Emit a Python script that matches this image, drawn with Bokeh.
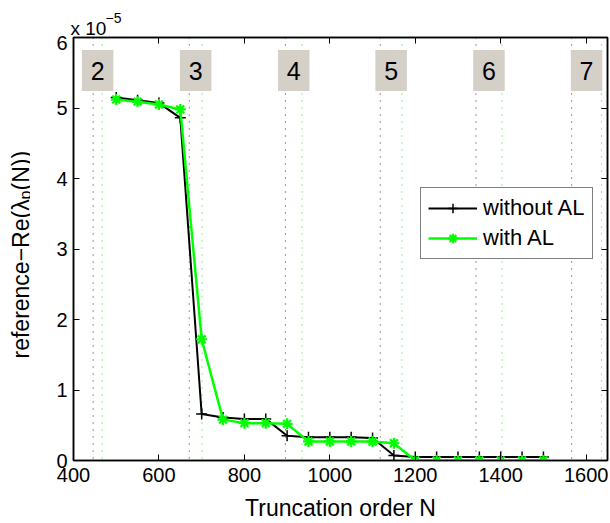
import math
from bokeh.plotting import figure
from bokeh.layouts import column, row
from bokeh.models import (Range1d, LinearAxis, FixedTicker, Span, Legend, LegendItem,
                          ColumnDataSource)
from bokeh.core.properties import value
from bokeh.embed import file_html
from bokeh.resources import INLINE

FONT = "Liberation Sans"

# ---- data (values in units of 1e-5) ----
N = [500, 550, 600, 650, 700, 750, 800, 850, 900, 950, 1000, 1050, 1100, 1150,
     1200, 1250, 1300, 1350, 1400, 1450, 1500]
without_AL = [5.15, 5.11, 5.07, 4.86, 0.66, 0.61, 0.59, 0.59, 0.35, 0.33, 0.33, 0.33, 0.32, 0.07,
              0.05, 0.05, 0.05, 0.05, 0.05, 0.05, 0.05]
with_AL = [5.12, 5.09, 5.05, 4.98, 1.72, 0.58, 0.53, 0.53, 0.52, 0.27, 0.27, 0.27, 0.27, 0.245,
           0.0, 0.0, 0.0, 0.0, 0.0, 0.0, 0.0]

boundary_without = [446, 671, 896, 1118, 1342, 1566]
boundary_with = [467, 701, 935, 1169, 1403, 1636]
region_labels = ["2", "3", "4", "5", "6", "7"]

x_ticks = [400, 600, 800, 1000, 1200, 1400, 1600]
y_ticks = [0, 1, 2, 3, 4, 5, 6]

W, H = 610, 523
TOP_H = 35      # strip holding the "x 10^-5" text
LEFT_W = 30     # strip holding the y axis title
X0, X1, Y0, Y1 = 400, 1650, 0, 6
FL, FR, FT, FB = 73, 607, 37, 460  # frame edges in page pixels

MAIN_W = W - LEFT_W
MAIN_H = H - TOP_H


def dy(py):
    return Y0 + (FB - py) * (Y1 - Y0) / (FB - FT)


p = figure(width=MAIN_W, height=MAIN_H, output_backend="svg", toolbar_location=None,
           x_range=Range1d(X0, X1), y_range=Range1d(Y0, Y1),
           min_border_left=FL - LEFT_W, min_border_right=W - FR, min_border_top=FT - TOP_H,
           min_border_bottom=H - FB)
p.background_fill_color = "white"
p.border_fill_color = "white"
p.grid.visible = False
p.outline_line_color = "black"
p.outline_line_width = 1.5


def style_axis(ax, ticks, labels=True):
    ax.ticker = FixedTicker(ticks=ticks)
    ax.major_tick_in = 6
    ax.major_tick_out = 0
    ax.minor_tick_line_color = None
    ax.axis_line_color = "black"
    ax.axis_line_width = 1.5
    ax.major_tick_line_color = "black"
    ax.major_tick_line_width = 1
    ax.major_label_text_font = FONT
    ax.major_label_text_font_size = "20px"
    ax.major_label_text_color = "black"
    if not labels:
        ax.major_label_text_font_size = "0px"
        ax.major_label_text_alpha = 0


p.add_layout(LinearAxis(), "above")
p.add_layout(LinearAxis(), "right")
for ax in p.below:
    style_axis(ax, x_ticks)
    ax.major_label_standoff = 7
    ax.axis_label = "Truncation order N"
    ax.axis_label_text_font = FONT
    ax.axis_label_text_font_size = "23px"
    ax.axis_label_text_font_style = "normal"
    ax.axis_label_text_color = "black"
    ax.axis_label_standoff = 10
for ax in p.left:
    style_axis(ax, y_ticks)
    ax.major_label_standoff = 6
for ax in p.above:
    style_axis(ax, x_ticks, labels=False)
for ax in p.right:
    style_axis(ax, y_ticks, labels=False)

# dotted boundaries
for xb in boundary_without:
    p.add_layout(Span(location=xb, dimension="height", line_color="#333333",
                      line_dash="1 6", line_width=1, level="underlay"))
for xb in boundary_with:
    p.add_layout(Span(location=xb, dimension="height", line_color="#33dd33",
                      line_dash="1 6", line_width=1, level="underlay"))

# region label boxes
mids = [(a + b) / 2 for a, b in zip(boundary_without, boundary_with)]
box_src = ColumnDataSource(dict(x=mids, t=region_labels))
p.rect(x="x", y=dy(70), width=31.5, height=41, width_units="screen", height_units="screen",
       fill_color="#d4d0c8", line_color=None, source=box_src)
p.text(x="x", y=dy(70), text="t", text_align="center", text_baseline="middle",
       text_font=value(FONT), text_font_size="25px", text_color="black", source=box_src)

# series
src = ColumnDataSource(dict(N=N, wo=without_AL, w=with_AL))
bl = p.line("N", "wo", source=src, line_color="black", line_width=2)
bm = p.scatter("N", "wo", source=src, marker="cross", size=11, line_color="black", line_width=1.5)
gl = p.line("N", "w", source=src, line_color="#00ff00", line_width=2.5)
gm = p.scatter("N", "w", source=src, marker="asterisk", size=11, line_color="#00ff00", line_width=2.2)

legend = Legend(items=[LegendItem(label="without AL", renderers=[bl, bm]),
                       LegendItem(label="with AL", renderers=[gl, gm])],
                location=(347, 201))
legend.label_text_font = FONT
legend.label_text_font_size = "22px"
legend.label_text_color = "black"
legend.glyph_width = 49
legend.glyph_height = 24
legend.label_height = 24
legend.spacing = 4
legend.padding = 7
legend.margin = 0
legend.label_standoff = 6
legend.border_line_color = "black"
legend.border_line_width = 1
legend.background_fill_alpha = 1
p.add_layout(legend, "center")


def strip(w, h, yr=None):
    f = figure(width=w, height=h, output_backend="svg", toolbar_location=None, title=None,
               x_range=Range1d(0, w), y_range=yr if yr is not None else Range1d(0, h),
               min_border=0, min_border_left=0, min_border_right=0, min_border_top=0,
               min_border_bottom=0, x_axis_type=None, y_axis_type=None)
    f.grid.visible = False
    f.outline_line_color = None
    f.background_fill_color = "white"
    f.border_fill_color = "white"
    return f


# top strip (page x 0..W, y 0..TOP_H): exponent "x 10^-5"
top = strip(W, TOP_H)
top.text(x=[70], y=[TOP_H - 28], text=["x 10"], text_font=value(FONT),
         text_font_size="19px", text_baseline="alphabetic", text_align="left", text_color="black")
top.text(x=[105], y=[TOP_H - 17], text=["\u22125"], text_font=value(FONT),
         text_font_size="14px", text_baseline="alphabetic", text_align="left", text_color="black")

# left strip: its frame is aligned by the row layout with the main frame
# (page y FT..FB), so its y range is given in "H - page y" units over that span
left = strip(LEFT_W, MAIN_H, yr=Range1d(H - FB, H - FT))
ang = math.pi / 2


def ly(py):
    return H - py


left.text(x=[20], y=[ly(358)], text=["reference\u2212Re(\u03bb"], angle=ang,
          text_font=value(FONT), text_font_size="23px", text_baseline="alphabetic",
          text_align="left", text_color="black")
left.text(x=[25], y=[ly(199)], text=["p"], angle=ang,
          text_font=value(FONT), text_font_size="16px", text_baseline="alphabetic",
          text_align="left", text_color="black")
left.text(x=[20], y=[ly(190)], text=["(N))"], angle=ang,
          text_font=value(FONT), text_font_size="23px", text_baseline="alphabetic",
          text_align="left", text_color="black")

layout = column(top, row(left, p, spacing=0), spacing=0)
open("out.html", "w").write(file_html(layout, INLINE))
